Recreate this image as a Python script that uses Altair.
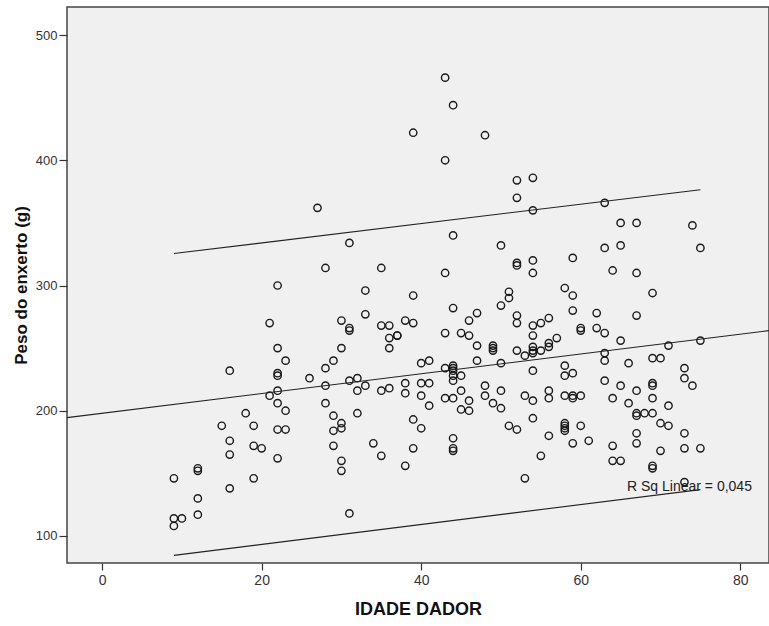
import altair as alt
import pandas as pd

# ---- data ----
idade = (
    [9, 9, 9] + [10] + [12] * 4 + [15] + [16] * 4 + [18] + [19] * 3 + [20] + [21] * 2 +
    [22] * 8 + [23] * 3 + [26] + [27] + [28] * 4 + [29] * 4 + [30] * 6 + [31] * 5 +
    [32] * 3 + [33] * 3 + [34] + [35] * 4 + [36] * 4 + [37] * 2 + [38] * 4 + [39] * 5 +
    [40] * 4 + [41] * 3 + [43] * 6 + [44] * 12 + [45] * 4 + [46] * 4 + [47] * 3 +
    [48] * 3 + [49] * 4 + [50] * 5 + [51] * 3 + [52] * 8 + [53] * 3 + [54] * 12 +
    [55] * 3 + [56] * 6 + [57] + [58] * 8 + [59] * 7 + [60] * 4 + [61] + [62] * 2 +
    [63] * 6 + [64] * 4 + [65] * 5 + [66] * 2 + [67] * 8 + [68] + [69] * 8 + [70] * 3 +
    [71] * 3 + [73] * 5 + [74] * 2 + [75] * 3
)
peso = [
    146, 114, 108,
    114,
    154, 152, 130, 117,
    188,
    232, 176, 165, 138,
    198,
    188, 172, 146,
    170,
    270, 212,
    300, 250, 230, 228, 216, 206, 185, 162,
    240, 200, 185,
    226,
    362,
    314, 234, 220, 206,
    240, 196, 184, 172,
    272, 250, 190, 186, 160, 152,
    334, 266, 264, 224, 118,
    226, 216, 198,
    296, 277, 220,
    174,
    314, 268, 216, 164,
    268, 258, 250, 218,
    260, 260,
    272, 222, 214, 156,
    422, 292, 270, 193, 170,
    238, 222, 212, 186,
    240, 222, 204,
    466, 400, 310, 262, 234, 210,
    444, 340, 282, 236, 234, 232, 228, 224, 210, 178, 170, 168,
    262, 228, 216, 201,
    272, 260, 208, 200,
    278, 252, 240,
    420, 220, 212,
    252, 250, 248, 206,
    332, 284, 238, 216, 202,
    295, 290, 188,
    384, 370, 318, 316, 276, 270, 248, 185,
    244, 212, 146,
    386, 360, 320, 310, 268, 260, 251, 248, 246, 232, 208, 194,
    270, 248, 164,
    274, 254, 251, 216, 210, 180,
    258,
    298, 236, 228, 212, 190, 188, 186, 184,
    322, 292, 280, 230, 212, 210, 174,
    266, 264, 212, 188,
    176,
    278, 266,
    366, 330, 262, 246, 240, 224,
    312, 210, 172, 160,
    350, 332, 256, 220, 160,
    238, 206,
    350, 310, 276, 216, 198, 196, 182, 174,
    198,
    294, 242, 222, 220, 210, 198, 156, 154,
    242, 190, 168,
    252, 204, 188,
    234, 226, 182, 170, 143,
    348, 220,
    330, 256, 170,
]

# fit line and prediction-interval lines
fit_x = [-4.4, 83.6]
fit_y = [194.5, 264.0]
band_x = [9, 75]
upper_y = [325.5, 376.5]
lower_y = [84.5, 137.0]

rsq_text = ["R Sq Linear = 0,045"]
rsq_x = [65.8]
rsq_y = [135.5]

x_ticks = [0, 20, 40, 60, 80]
y_ticks = [100, 200, 300, 400, 500]
x_domain = [-4.4, 83.6]
y_domain = [78.4, 522.4]

pts = pd.DataFrame({"IDADE DADOR": idade, "Peso": peso})
fit = pd.DataFrame({"x": fit_x, "y": fit_y})
up = pd.DataFrame({"x": band_x, "y": upper_y})
lo = pd.DataFrame({"x": band_x, "y": lower_y})
lab = pd.DataFrame({"x": rsq_x, "y": rsq_y, "t": rsq_text})

xscale = alt.Scale(domain=x_domain, nice=False, zero=False)
yscale = alt.Scale(domain=y_domain, nice=False, zero=False)

xaxis = alt.Axis(values=x_ticks, title="IDADE DADOR", grid=False, domain=False,
                 tickSize=7, tickColor="#333", tickWidth=1.2,
                 labelFont="Liberation Sans", labelFontSize=14, labelColor="#333",
                 labelPadding=3,
                 titleFont="Liberation Sans", titleFontSize=18, titleFontWeight="bold",
                 titleColor="#111", titlePadding=13)
yaxis = alt.Axis(values=y_ticks, title="Peso do enxerto (g)", grid=False, domain=False,
                 tickSize=8, tickColor="#333", tickWidth=1.2,
                 labelFont="Liberation Sans", labelFontSize=13, labelColor="#333",
                 labelPadding=2,
                 titleFont="Liberation Sans", titleFontSize=17, titleFontWeight="bold",
                 titleColor="#111", titlePadding=5)

points = alt.Chart(pts).mark_point(
    shape="circle", filled=False, size=54, strokeWidth=1.4, color="#1a1a1a", opacity=1
).encode(
    x=alt.X("IDADE DADOR:Q", scale=xscale, axis=xaxis),
    y=alt.Y("Peso:Q", scale=yscale, axis=yaxis),
)

def line(df):
    return alt.Chart(df).mark_line(color="#222", strokeWidth=1.1, clip=True).encode(
        x=alt.X("x:Q", scale=xscale),
        y=alt.Y("y:Q", scale=yscale),
    )

text = alt.Chart(lab).mark_text(
    align="left", baseline="alphabetic", font="Liberation Sans", fontSize=14, color="#222"
).encode(
    x=alt.X("x:Q", scale=xscale),
    y=alt.Y("y:Q", scale=yscale),
    text="t:N",
)

chart = alt.layer(points, line(fit), line(up), line(lo), text).properties(
    width=702, height=556,
    autosize=alt.AutoSizeParams(type="none"),
    padding={"left": 67, "top": 7, "right": 0, "bottom": 63},
    background="white",
).configure_view(
    fill="#f0f0f0", stroke="#444", strokeWidth=1.5
)

chart.save("out.html", embed_options={"renderer": "svg", "actions": False})
